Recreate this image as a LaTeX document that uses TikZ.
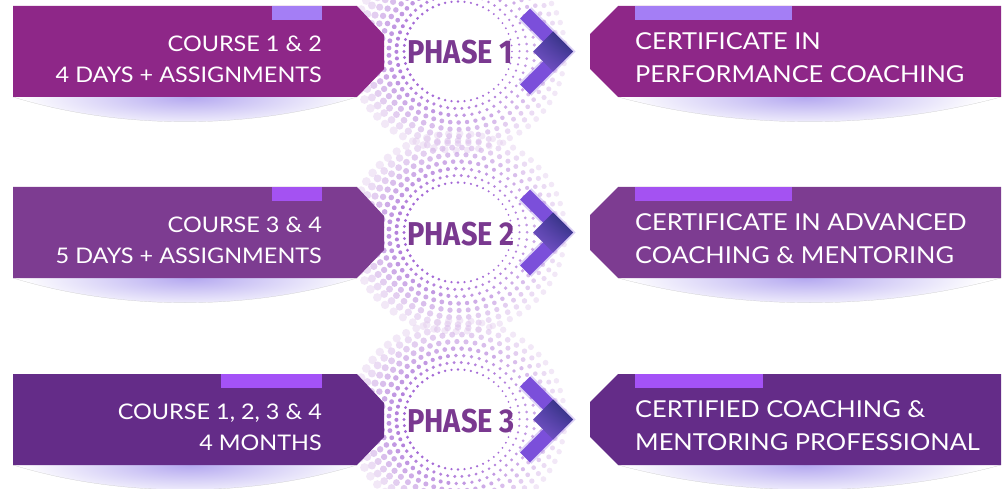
\documentclass[tikz,border=0pt]{standalone}
\usepackage{fontspec}
\setmainfont{Lato}[FakeStretch=1.09]
\newfontfamily\phasefont[FakeStretch=0.88]{Fira Sans}
\usepackage{tikz}
\usetikzlibrary{shadings}

\definecolor{rowone}{HTML}{8E2788}
\definecolor{rowtwo}{HTML}{7D3C91}
\definecolor{rowthree}{HTML}{642C88}
\definecolor{tabone}{HTML}{A47EF5}
\definecolor{tabtwo}{HTML}{A452F2}
\definecolor{tabthree}{HTML}{A452F7}
\definecolor{phasec}{HTML}{7A3990}
\definecolor{barc}{HTML}{7B4FDA}
\definecolor{tipdark}{HTML}{1F2A6B}
\definecolor{dotc}{HTML}{A062D4}
\definecolor{dotpale}{HTML}{F0E0F2}
\definecolor{shadec}{HTML}{B4A8F0}

\tikzset{
  course/.style={text=white,font=\fontsize{21.5}{31}\selectfont,align=right,anchor=north east,inner sep=0pt},
  cert/.style={text=white,font=\fontsize{23.3}{33}\selectfont,align=left,anchor=north west,inner sep=0pt},
  phase/.style={text=phasec,font=\phasefont\bfseries\fontsize{33}{33}\selectfont,anchor=base west,inner sep=0pt},
  bar/.style={line width=14pt,line join=miter,barc}
}

\begin{document}
\begin{tikzpicture}[x=1pt,y=-1pt]
\useasboundingbox (0,0) rectangle (1003,489);

% dotted halos round the phase labels
\foreach \cy in {51.5,232.5,419.5} {
  \foreach \k in {0,...,7} {
    \pgfmathsetmacro{\r}{50+7*\k}
    \pgfmathtruncatemacro{\n}{2*pi*\r/(6+0.6*\k)}
    \pgfmathtruncatemacro{\mix}{100-12*\k}
    \pgfmathsetmacro{\op}{0.95-0.07*\k}
    \foreach \i in {1,...,\n} {
      \pgfmathsetmacro{\a}{360/\n*\i+13*\k}
      \pgfmathsetmacro{\s}{(1.3+0.33*\k)*(1-0.25*cos(\a))}
      \fill[dotc!\mix!dotpale,opacity=\op] ({458+1.08*\r*cos(\a)},{\cy+\r*sin(\a)}) circle (\s pt);
    }
  }
}

% soft shadows under the boxes
\foreach \t in {6,187,374} {
  \begin{scope}
    \clip (13,\t+91) .. controls (120,\t+124) and (250,\t+124) .. (357,\t+91) -- cycle;
    \shade[inner color=shadec,outer color=white] (190,\t+91) ellipse (170pt and 32pt);
  \end{scope}
  \draw[gray!45,very thin] (13,\t+91) .. controls (120,\t+124) and (250,\t+124) .. (357,\t+91);
  \begin{scope}
    \clip (618,\t+91) .. controls (740,\t+124) and (880,\t+124) .. (1001,\t+91) -- cycle;
    \shade[inner color=shadec,outer color=white] (805,\t+91) ellipse (180pt and 32pt);
  \end{scope}
  \draw[gray!45,very thin] (618,\t+91) .. controls (740,\t+124) and (880,\t+124) .. (1001,\t+91);
}

% boxes with their tabs
\foreach \t/\col/\tabc/\la/\rb in {6/rowone/tabone/272/792,187/rowtwo/tabtwo/272/792,374/rowthree/tabthree/221/763} {
  \fill[\col] (13,\t) -- (357,\t) -- (384,\t+29) -- (384,\t+63) -- (357,\t+91) -- (13,\t+91) -- cycle;
  \fill[\col] (1001,\t) -- (618,\t) -- (590,\t+28) -- (590,\t+63) -- (618,\t+91) -- (1001,\t+91) -- cycle;
  \fill[\tabc] (\la,\t) rectangle (322,\t+14);
  \fill[\tabc] (635,\t) rectangle (\rb,\t+14);
}

% chevrons
\foreach \m in {51.5,232.5,419.5} {
  \draw[bar,opacity=0.25,line width=18pt] (525,\m-38) -- (563,\m) -- (525,\m+38);
  \draw[bar] (525,\m-38) -- (563,\m) -- (525,\m+38);
  \shade[upper right=tipdark,lower right=barc!70!tipdark,upper left=barc!60!tipdark,lower left=barc!80!gray]
    (553,\m-20) -- (573,\m) -- (553,\m+20) -- (533,\m) -- cycle;
}

\node[course] (course1) at (322,36) {COURSE 1 \& 2\\4 DAYS + ASSIGNMENTS};
\node[course] (course2) at (322,217) {COURSE 3 \& 4\\5 DAYS + ASSIGNMENTS};
\node[course] (course3) at (322,404) {COURSE 1, 2, 3 \& 4\\4 MONTHS};

\node[phase] (phase1) at (407,64) {PHASE 1};
\node[phase] (phase2) at (407,245) {PHASE 2};
\node[phase] (phase3) at (407,432) {PHASE 3};

\node[cert] (cert1) at (635,32.5) {CERTIFICATE IN\\PERFORMANCE COACHING};
\node[cert] (cert2) at (635,213.5) {CERTIFICATE IN ADVANCED\\COACHING \& MENTORING};
\node[cert] (cert3) at (635,400.5) {CERTIFIED COACHING \&\\MENTORING PROFESSIONAL};
\end{tikzpicture}
\end{document}
